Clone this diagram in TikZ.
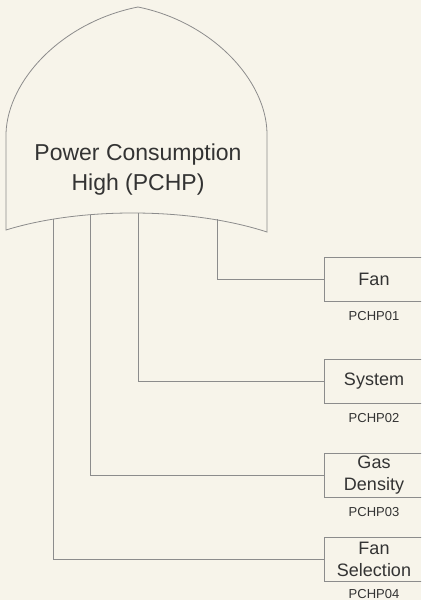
\documentclass[tikz,border=0pt]{standalone}
\usepackage{fontspec}
\setmainfont{Liberation Sans}
\usetikzlibrary{positioning}
\definecolor{paper}{HTML}{F7F4EA}
\definecolor{linegray}{HTML}{8C8C8C}
\definecolor{ink}{HTML}{333333}

\begin{document}
\begin{tikzpicture}[x=1pt, y=-1pt,
  link/.style={draw=linegray, line width=0.8pt},
  box/.style={draw=linegray, line width=0.8pt, minimum width=100pt, minimum height=44pt,
    inner sep=1pt, align=center, text=ink, font=\fontsize{18}{22}\selectfont},
  tag/.style={inner sep=1pt, text=ink, font=\fontsize{13}{15}\selectfont}]

  % Paper and page frame
  \path[use as bounding box, fill=paper] (0,0) rectangle (421,600);
  \clip (0,0) rectangle (421,600);

  % Draw the gate
  \draw[link] (6,230) -- (6,133) .. controls (8,80) and (62,22) .. (138,7)
    .. controls (212,22) and (266,80) .. (267,133) -- (267,232)
    .. controls (190,207) and (80,207) .. cycle;
  \node[text=ink, align=center, font=\fontsize{23}{30}\selectfont] (pchp) at (138,170)
    {Power Consumption\\High (PCHP)};

  % Tap points on the bottom edge
  \coordinate (t1) at (217,219);
  \coordinate (t2) at (138,213);
  \coordinate (t3) at (90,214.5);
  \coordinate (t4) at (53,219);

  % Draw the boxes and their codes
  \node[box] (fan) at (374,279) {Fan};
  \node[tag, below=9pt of fan] (fanid) {PCHP01};

  \node[box] (sys) at (374,381) {System};
  \node[tag, below=9pt of sys] (sysid) {PCHP02};

  \node[box] (gas) at (374,475) {Gas\\Density};
  \node[tag, below=9pt of gas] (gasid) {PCHP03};

  \node[box] (fansel) at (374,559) {Fan\\Selection};
  \node[tag, below=7pt of fansel] (fanselid) {PCHP04};

  % Connectors
  \draw[link] (t1) |- (fan.west);
  \draw[link] (t2) |- (sys.west);
  \draw[link] (t3) |- (gas.west);
  \draw[link] (t4) |- (fansel.west);
\end{tikzpicture}
\end{document}
